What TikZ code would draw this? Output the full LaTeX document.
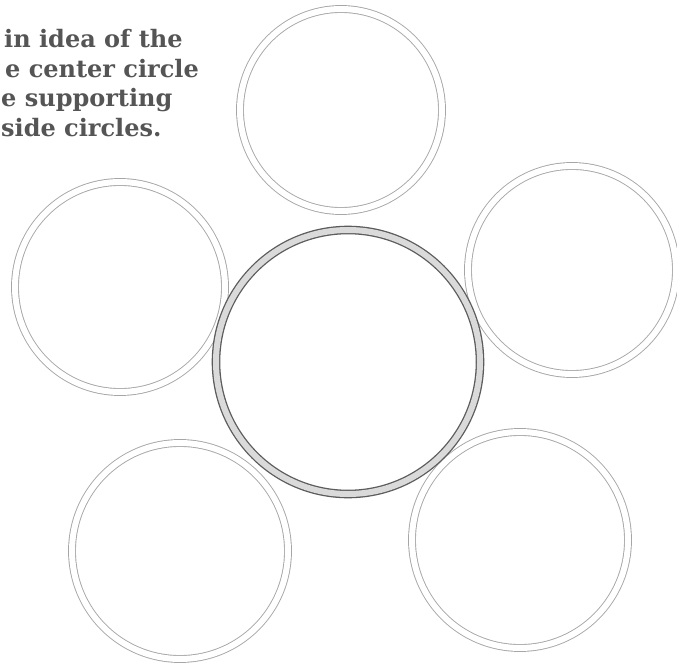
\documentclass[tikz,border=0pt]{standalone}
\usepackage{fontspec}
\setmainfont{DejaVu Serif}
\definecolor{ink}{HTML}{555555}
\definecolor{rim}{HTML}{A6A6A6}
\definecolor{hub}{HTML}{5C5C5C}
\definecolor{hubfill}{HTML}{DADADA}

\begin{document}
\begin{tikzpicture}[x=1pt,y=-1pt,
  petal/.style={draw=rim,line width=.9pt,double=white,double distance=6pt},
  hubring/.style={draw=hub,line width=1.3pt,double=hubfill,double distance=6pt},
  note/.style={ink,font=\bfseries\fontsize{24}{29}\selectfont,anchor=base west,inner sep=0pt}]
  \useasboundingbox (0,0) rectangle (677,666);
  \fill[white] (0,0) rectangle (677,666);
  % instructions, as far as they show
  \node[note] (line1) at (4,48) {in idea of the};
  \node[note] (line2) at (5,78) {e center circle};
  \node[note] (line3) at (1,107) {e supporting};
  \node[note] (line4) at (1,137) {side circles.};
  % outside circles
  \draw[petal] (341,110) circle (101);
  \draw[petal] (120,287) circle (105);
  \draw[petal] (572,270) circle (104);
  \draw[petal] (180,551) circle (108);
  \draw[petal] (520,540) circle (108);
  % center circle
  \draw[hubring] (348,362) circle (132);
\end{tikzpicture}
\end{document}
